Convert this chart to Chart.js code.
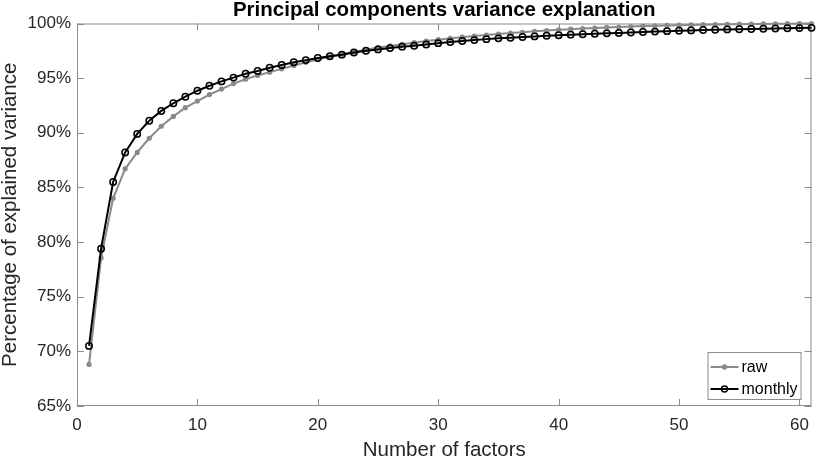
<!DOCTYPE html>
<html>
<head>
<meta charset="utf-8">
<script src="https://cdn.jsdelivr.net/npm/chart.js@4.4.1/dist/chart.umd.min.js"></script>
<style>
  html, body { margin: 0; padding: 0; background: #fff; }
</style>
</head>
<body>
<canvas id="pcaChart" width="817" height="459"></canvas>
<script>
// number of principal components kept
const factors = [1, 2, 3, 4, 5, 6, 7, 8, 9, 10, 11, 12, 13, 14, 15, 16, 17, 18, 19, 20,
  21, 22, 23, 24, 25, 26, 27, 28, 29, 30, 31, 32, 33, 34, 35, 36, 37, 38, 39, 40,
  41, 42, 43, 44, 45, 46, 47, 48, 49, 50, 51, 52, 53, 54, 55, 56, 57, 58, 59, 60, 61];

// cumulative explained variance, %
const rawPct = [68.8, 78.55, 84.0, 86.7, 88.2, 89.5, 90.6, 91.5, 92.3, 92.9,
  93.5, 94.0, 94.5, 94.9, 95.25, 95.55, 95.85, 96.15, 96.45, 96.7,
  96.95, 97.2, 97.4, 97.6, 97.8, 97.95, 98.1, 98.25, 98.4, 98.52,
  98.64, 98.75, 98.85, 98.95, 99.04, 99.12, 99.2, 99.28, 99.35, 99.42,
  99.48, 99.54, 99.59, 99.64, 99.68, 99.72, 99.76, 99.79, 99.82, 99.85,
  99.87, 99.89, 99.91, 99.93, 99.94, 99.95, 99.96, 99.97, 99.98, 99.99, 100.0];

const monthlyPct = [70.5, 79.4, 85.5, 88.2, 89.9, 91.1, 92.0, 92.7, 93.3, 93.85,
  94.3, 94.7, 95.05, 95.4, 95.65, 95.95, 96.2, 96.45, 96.65, 96.85,
  97.0, 97.15, 97.35, 97.5, 97.63, 97.75, 97.88, 97.97, 98.08, 98.2,
  98.3, 98.4, 98.48, 98.57, 98.64, 98.7, 98.76, 98.82, 98.88, 98.93,
  98.98, 99.02, 99.06, 99.1, 99.14, 99.18, 99.22, 99.26, 99.3, 99.34,
  99.37, 99.4, 99.43, 99.46, 99.48, 99.5, 99.52, 99.54, 99.56, 99.58, 99.6];

const xTicks = [0, 10, 20, 30, 40, 50, 60];
const yTicks = [65, 70, 75, 80, 85, 90, 95, 100];

const GRAY = '#8a8a8a';
const AXIS = '#8c8c8c';
const TEXT = '#262626';

Chart.defaults.font.family = '"Liberation Sans", Arial, Helvetica, sans-serif';

// matlab style box with inward ticks
const axesBox = {
  id: 'axesBox',
  beforeDatasetsDraw(chart) {
    const { ctx, chartArea: a, scales } = chart;
    const len = 7;
    ctx.save();
    ctx.strokeStyle = AXIS;
    ctx.lineWidth = 1;
    ctx.strokeRect(a.left + 0.5, a.top + 0.5, a.right - a.left - 1, a.bottom - a.top - 1);
    ctx.beginPath();
    xTicks.forEach(v => {
      const px = Math.round(scales.x.getPixelForValue(v)) + 0.5;
      ctx.moveTo(px, a.bottom); ctx.lineTo(px, a.bottom - len);
      ctx.moveTo(px, a.top); ctx.lineTo(px, a.top + len);
    });
    yTicks.forEach(v => {
      const py = Math.round(scales.y.getPixelForValue(v)) + 0.5;
      ctx.moveTo(a.left, py); ctx.lineTo(a.left + len, py);
      ctx.moveTo(a.right, py); ctx.lineTo(a.right - len, py);
    });
    ctx.stroke();
    ctx.restore();
  }
};

const boxLegend = {
  id: 'boxLegend',
  afterDraw(chart) {
    const { ctx, chartArea: a } = chart;
    const w = 93, h = 47;
    const x0 = a.right - 11 - w, y0 = a.bottom - 7 - h;
    ctx.save();
    ctx.fillStyle = '#fff';
    ctx.fillRect(x0, y0, w, h);
    ctx.strokeStyle = AXIS;
    ctx.lineWidth = 1;
    ctx.strokeRect(x0 + 0.5, y0 + 0.5, w, h);
    ctx.font = '16px "Liberation Sans", Arial, sans-serif';
    ctx.textBaseline = 'middle';
    const rows = [
      { label: 'raw', color: GRAY, y: y0 + 15, open: false },
      { label: 'monthly', color: '#000', y: y0 + 37, open: true }
    ];
    rows.forEach(r => {
      ctx.strokeStyle = r.color;
      ctx.lineWidth = 2;
      ctx.beginPath();
      ctx.moveTo(x0 + 3, r.y); ctx.lineTo(x0 + 31, r.y);
      ctx.stroke();
      ctx.beginPath();
      if (r.open) {
        ctx.lineWidth = 1.5;
        ctx.arc(x0 + 17, r.y, 3, 0, Math.PI * 2);
        ctx.stroke();
      } else {
        ctx.fillStyle = r.color;
        ctx.arc(x0 + 17, r.y, 2.7, 0, Math.PI * 2);
        ctx.fill();
      }
      ctx.fillStyle = '#000';
      ctx.fillText(r.label, x0 + 34, r.y + 1);
    });
    ctx.restore();
  }
};

const ctx = document.getElementById('pcaChart').getContext('2d');
new Chart(ctx, {
  type: 'line',
  data: {
    datasets: [
      {
        label: 'raw',
        data: factors.map((f, i) => ({ x: f, y: rawPct[i] })),
        borderColor: GRAY,
        backgroundColor: GRAY,
        borderWidth: 2,
        pointRadius: 2.6,
        pointBorderWidth: 0,
        pointBackgroundColor: GRAY,
        tension: 0,
        clip: false,
        order: 2
      },
      {
        label: 'monthly',
        data: factors.map((f, i) => ({ x: f, y: monthlyPct[i] })),
        borderColor: '#000',
        backgroundColor: '#000',
        borderWidth: 2,
        pointRadius: 3.2,
        pointBorderWidth: 1.5,
        pointBorderColor: '#000',
        pointBackgroundColor: 'rgba(0,0,0,0)',
        tension: 0,
        clip: false,
        order: 1
      }
    ]
  },
  options: {
    responsive: false,
    animation: false,
    layout: { padding: { top: 0, right: 0, bottom: 0, left: 0 } },
    plugins: {
      legend: { display: false },
      tooltip: { enabled: false },
      title: {
        display: true,
        fullSize: false,
        text: 'Principal components variance explanation',
        color: '#000',
        font: { size: 20.5, weight: 'bold', lineHeight: 1 },
        padding: { top: 0, bottom: 3 }
      }
    },
    scales: {
      x: {
        type: 'linear',
        min: 0,
        max: 61,
        afterBuildTicks: s => { s.ticks = xTicks.map(v => ({ value: v })); },
        afterFit: s => { s.height = 53; s.paddingRight = 0; s.paddingLeft = 0; },
        grid: { display: false, drawTicks: false },
        border: { display: false },
        ticks: { color: TEXT, font: { size: 17 }, padding: 9, maxRotation: 0, autoSkip: false },
        title: {
          display: true,
          text: 'Number of factors',
          color: TEXT,
          font: { size: 20.5, lineHeight: 1 },
          padding: { top: 0, bottom: -2 }
        }
      },
      y: {
        type: 'linear',
        min: 65,
        max: 100,
        afterBuildTicks: s => { s.ticks = yTicks.map(v => ({ value: v })); },
        afterFit: s => { s.width = 77; s.paddingTop = 0; s.paddingBottom = 0; },
        grid: { display: false, drawTicks: false },
        border: { display: false },
        ticks: { color: TEXT, font: { size: 17 }, padding: 6, callback: v => v + '%' },
        title: {
          display: true,
          text: 'Percentage of explained variance',
          color: TEXT,
          font: { size: 20.5, lineHeight: 1 },
          padding: 0
        }
      }
    }
  },
  plugins: [axesBox, boxLegend]
});
</script>
</body>
</html>
